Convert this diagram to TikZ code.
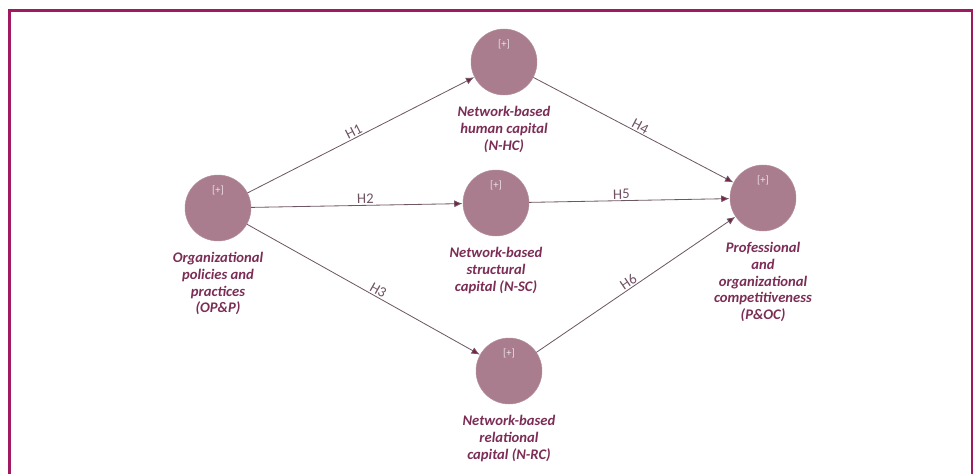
\documentclass[tikz,border=0pt]{standalone}
\usepackage{fontspec}
\setmainfont{Carlito}
\usetikzlibrary{positioning,arrows.meta}
\definecolor{cadre}{HTML}{A01A62}
\definecolor{bulle}{HTML}{A97D8D}
\definecolor{trait}{HTML}{6E5663}
\definecolor{pointe}{HTML}{7A1F4A}
\definecolor{legende}{HTML}{7B2D55}
\begin{document}
\begin{tikzpicture}[
    x=0.03cm, y=-0.03cm,
    latente/.style={circle, fill=bulle, draw=bulle!85!white, minimum size=1.98cm, inner sep=0pt,
                    label={[anchor=north, yshift=-0.2cm, font=\fontsize{9}{10}\selectfont, text=white!80!bulle]north:{[+]}}},
    legende/.style={font=\fontsize{12.5}{14.2}\selectfont\bfseries\itshape, text=legende,
                    align=center, inner sep=1pt},
    lien/.style={draw=trait, line width=0.7pt, -{Latex[length=7pt, width=6pt, fill=pointe]}, shorten >=0.3pt},
    hypo/.style={font=\fontsize{12.5}{14}\selectfont, text=trait!90!legende, sloped, above, inner sep=1pt}
]
    \useasboundingbox (0,0) rectangle (974,474);
    % cadre
    \draw[cadre, line width=2.4pt] (9.5,474) -- (9.5,10.5) -- (972,10.5) -- (972,474);

    % variables latentes
    \node[latente] (opp)  at (218,208) {};
    \node[latente] (nhc)  at (504,62)  {};
    \node[latente] (nsc)  at (496,203) {};
    \node[latente] (nrc)  at (509,371) {};
    \node[latente] (poc)  at (763,198) {};

    % legendes
    \node[legende, below=0.3cm of opp] (opp-t) {Organizational\\policies and\\practices\\(OP\&P)};
    \node[legende, below=0.3cm of nhc] (nhc-t) {Network-based\\human capital\\(N-HC)};
    \node[legende, below=0.3cm of nsc] (nsc-t) {Network-based\\structural\\capital (N-SC)};
    \node[legende, below=0.3cm of nrc] (nrc-t) {Network-based\\relational\\capital (N-RC)};
    \node[legende, below=0.3cm of poc] (poc-t) {Professional\\and\\organizational\\competitiveness\\(P\&OC)};

    % hypotheses
    \draw[lien] (opp) -- (nhc) node[hypo, pos=0.48] (h1) {H1};
    \draw[lien] (opp) -- (nsc) node[hypo, pos=0.54] (h2) {H2};
    \draw[lien] (opp) -- (nrc) node[hypo, pos=0.55] (h3) {H3};
    \draw[lien] (nhc) -- (poc) node[hypo, pos=0.52] (h4) {H4};
    \draw[lien] (nsc) -- (poc) node[hypo, pos=0.46] (h5) {H5};
    \draw[lien] (nrc) -- (poc) node[hypo, pos=0.48] (h6) {H6};
\end{tikzpicture}
\end{document}
